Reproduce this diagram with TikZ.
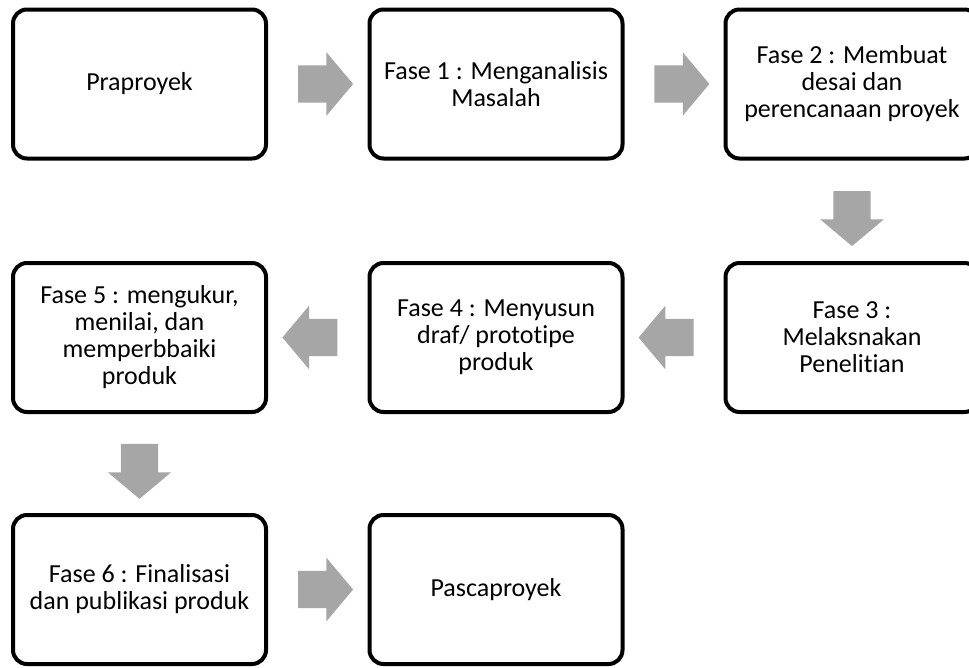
\documentclass[tikz,border=0pt]{standalone}
\usepackage{fontspec}
\setmainfont[Ligatures={NoCommon}]{Carlito}
\usetikzlibrary{calc,shapes.arrows}

\definecolor{arrowgray}{RGB}{166,166,166}

\tikzset{
  fase/.style={draw=black,line width=4pt,rounded corners=14pt,fill=white,
    minimum width=253pt,minimum height=149pt,align=center,
    font=\fontsize{26}{27}\selectfont},
  blok/.style={single arrow,fill=arrowgray,draw=none,inner xsep=0pt,inner ysep=18.5pt,
    minimum height=55pt,single arrow head extend=13pt,single arrow tip angle=100,
    single arrow head indent=0pt}
}

\begin{document}
\begin{tikzpicture}[x=1pt,y=-1pt]
\useasboundingbox (0,0) rectangle (969,667);
\clip (0,0) rectangle (969,667);
% phase boxes
\node[fase] (pra) at (139.5,84) {Praproyek};
\node[fase] (f1) at (496,84) {Fase 1 : Menganalisis\\Masalah};
\node[fase] (f2) at (852,84) {Fase 2 : Membuat\\desai dan\\perencanaan proyek};
\node[fase] (f3) at (852,337.5) {Fase 3 :\\Melaksnakan\\Penelitian};
\node[fase] (f4) at (496,337.5) {Fase 4 : Menyusun\\draf/ prototipe\\produk};
\node[fase] (f5) at (139.5,337.5) {Fase 5 : mengukur,\\menilai, dan\\memperbbaiki\\produk};
\node[fase] (f6) at (139.5,589.5) {Fase 6 : Finalisasi\\dan publikasi produk};
\node[fase] (pasca) at (496,589.5) {Pascaproyek};
% block arrows
\node[blok] (a1) at ($(pra.east)!0.5!(f1.west)$) {};
\node[blok] (a2) at ($(f1.east)!0.5!(f2.west)$) {};
\node[blok,rotate=-90] (a3) at ($(f2.south)!0.5!(f3.north)$) {};
\node[blok,rotate=180] (a4) at ($(f3.west)!0.5!(f4.east)$) {};
\node[blok,rotate=180] (a5) at ($(f4.west)!0.5!(f5.east)$) {};
\node[blok,rotate=-90] (a6) at ($(f5.south)!0.5!(f6.north)$) {};
\node[blok] (a7) at ($(f6.east)!0.5!(pasca.west)$) {};
\end{tikzpicture}
\end{document}
